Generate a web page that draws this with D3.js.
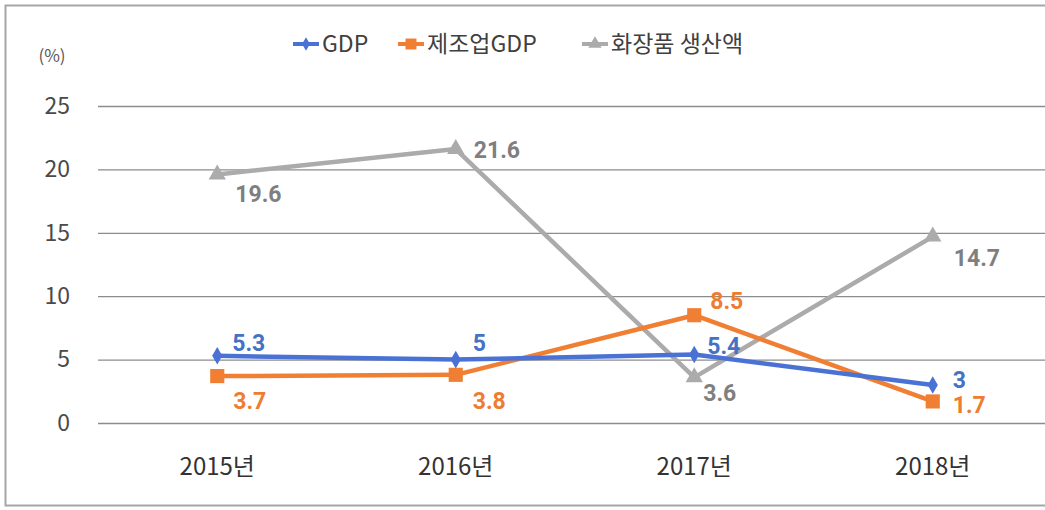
<!DOCTYPE html>
<html><head><meta charset="utf-8">
<script src="https://cdn.jsdelivr.net/npm/d3@7"></script>
<style>
html,body{margin:0;padding:0;background:#fff;}
svg{display:block;font-family:"Noto Sans CJK KR","Noto Sans",sans-serif;}
</style></head>
<body><svg id="c" width="1045" height="510"></svg>
<script>
const categories = ["2015년","2016년","2017년","2018년"];
const gdp = [5.3, 5, 5.4, 3];
const mfgGdp = [3.7, 3.8, 8.5, 1.7];
const cosmetics = [19.6, 21.6, 3.6, 14.7];
const seriesNames = ["GDP","제조업GDP","화장품 생산액"];
const yTicks = [0,5,10,15,20,25];
const yUnit = "(%)";
// label offsets [dx, dy] relative to point
const labelOffsets = [
  [[15,-5],[17,-9],[13,-1],[20,3]],
  [[16,33],[17,34],[16,-6],[20,12]],
  [[18,28],[18,9],[9,24],[21,29]]
];

const svg = d3.select("#c");
const W = 1045, H = 510;
const margin = {left: 98, right: -7, top: 106, bottom: 87};
const x = d3.scaleBand().domain(categories).range([margin.left, W - margin.right]);
const y = d3.scaleLinear().domain([0,25]).range([H - margin.bottom, margin.top]);

// border
svg.append("rect").attr("x",5.5).attr("y",5.5).attr("width",W+10).attr("height",500)
  .attr("fill","none").attr("stroke","#a6a6a6").attr("stroke-width",2);

// grid
const yAxis = d3.axisLeft(y).tickValues(yTicks).tickSize(-(x.range()[1]-x.range()[0])).tickPadding(28);
const gy = svg.append("g").attr("transform",`translate(${margin.left},0)`).call(yAxis);
gy.select(".domain").remove();
gy.selectAll(".tick line").attr("stroke","#8c8c8c").attr("stroke-width",1.3);
gy.selectAll(".tick text").attr("fill","#4a4a4a").attr("font-size",23).attr("font-family","'Noto Sans CJK KR', sans-serif");

svg.append("text").attr("x",52).attr("y",62).attr("text-anchor","middle")
  .attr("fill","#595959").attr("font-size",17).text(yUnit);

// x axis labels
const xAxis = d3.axisBottom(x).tickSize(0).tickPadding(35);
const gx = svg.append("g").attr("transform",`translate(0,${y(0)})`).call(xAxis);
gx.select(".domain").remove();
gx.selectAll(".tick text").attr("fill","#333").attr("font-size",24).attr("font-family","'Noto Sans CJK KR', sans-serif");

const cx = d => x(d) + x.bandwidth()/2;
const series = [
  {name: seriesNames[0], values: gdp, color: "#4a72d4", label: "#4472c4", shape: d3.symbolDiamond, size: 90},
  {name: seriesNames[1], values: mfgGdp, color: "#f07f34", label: "#ed7d31", shape: d3.symbolSquare, size: 200},
  {name: seriesNames[2], values: cosmetics, color: "#ababab", label: "#7f7f7f", shape: d3.symbolTriangle, size: 130}
];
const line = d3.line().x((d,i)=>cx(categories[i])).y(d=>y(d));

[2,1,0].forEach(si => {
  const s = series[si];
  svg.append("path").attr("d", line(s.values)).attr("fill","none")
    .attr("stroke", s.color).attr("stroke-width",4.5).attr("stroke-linejoin","round");
  svg.selectAll(null).data(s.values).enter().append("path")
    .attr("d", d3.symbol().type(s.shape).size(s.size))
    .attr("transform",(d,i)=>`translate(${cx(categories[i])},${y(d)})`)
    .attr("fill", s.color);
});
series.forEach((s,si) => {
  svg.selectAll(null).data(s.values).enter().append("text")
    .attr("x",(d,i)=>cx(categories[i]) + labelOffsets[si][i][0])
    .attr("y",(d,i)=>y(d) + labelOffsets[si][i][1])
    .attr("fill", s.label).attr("font-size",23).attr("font-weight","bold")
    .attr("font-family","Roboto, 'Noto Sans', sans-serif")
    .text(d=>d);
});

// legend
const legX = [293, 398, 582];
const legY = 44;
series.forEach((s,i) => {
  const g = svg.append("g").attr("transform",`translate(${legX[i]},${legY})`);
  g.append("line").attr("x1",0).attr("x2",26).attr("y1",0).attr("y2",0)
    .attr("stroke",s.color).attr("stroke-width",4);
  g.append("path").attr("d", d3.symbol().type(s.shape).size(s.size*0.6)).attr("transform","translate(13,0)").attr("fill",s.color);
  g.append("text").attr("x",29).attr("y",0).attr("dy","0.36em").attr("font-size",23)
    .attr("fill","#404040").text(s.name);
});
</script></body></html>
